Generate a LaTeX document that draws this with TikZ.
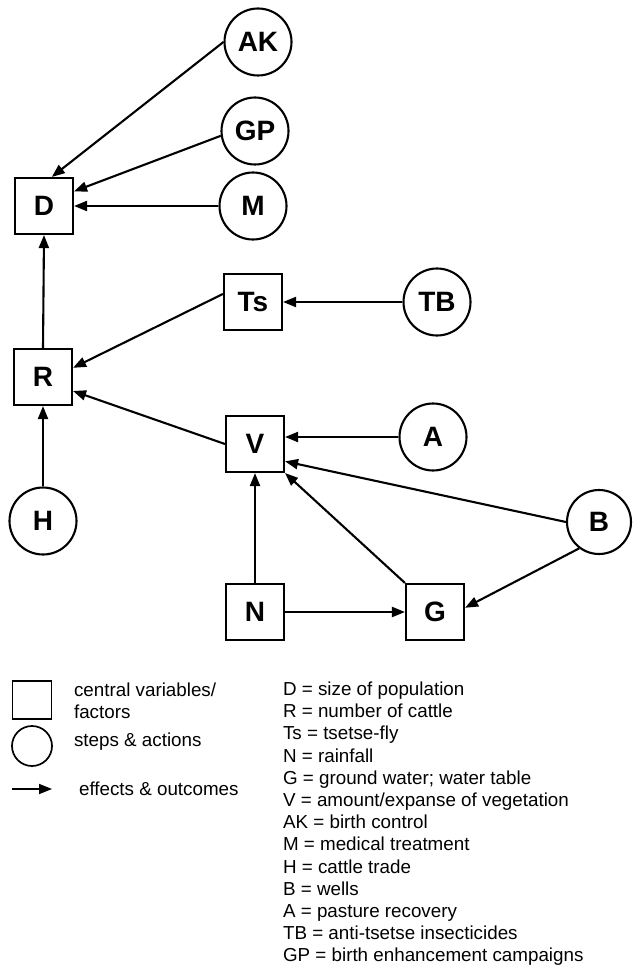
\documentclass[tikz,border=0pt]{standalone}
\usepackage{fontspec}
\setmainfont{Liberation Sans}
\usetikzlibrary{arrows.meta}
\begin{document}
\begin{tikzpicture}[x=1pt,y=-1pt,
  line width=2.1pt,
  lbl/.style={font=\fontsize{28}{30}\selectfont\bfseries},
  factor/.style={draw, rectangle, minimum width=58pt, minimum height=56pt, inner sep=0pt, lbl},
  action/.style={draw, circle, minimum size=67pt, inner sep=0pt, lbl},
  effect/.style={-{Triangle[length=13pt,width=10pt]}},
  legtext/.style={anchor=base west, inner sep=0pt, font=\fontsize{18.8}{22.2}\selectfont}
]
\useasboundingbox (0,0) rectangle (632,968);

% central variables / factors
\node[factor] (D)  at (44,206) {D};
\node[factor] (Ts) at (253,302) {Ts};
\node[factor] (R)  at (43,377) {R};
\node[factor] (V)  at (255,444) {V};
\node[factor] (N)  at (255,612) {N};
\node[factor] (G)  at (435,612) {G};

% steps & actions
\node[action] (AK) at (258,42) {AK};
\node[action] (GP) at (255,131) {GP};
\node[action] (M)  at (253,206) {M};
\node[action] (TB) at (437,302) {TB};
\node[action] (A)  at (433,437) {A};
\node[action] (H)  at (43,521) {H};
\node[action, minimum size=64pt] (B) at (599,522) {B};

% effects & outcomes
\draw[effect] (AK.west) -- (D.75);
\draw[effect] (GP.188) -- (D.26);
\draw[effect] (M.west) -- (D.east);
\draw[effect] (R.north) -- (D.south);
\draw[effect] (TB.west) -- (Ts.east);
\draw[effect] (Ts.165) -- (R.17);
\draw[effect] (V.west) -- (R.-25);
\draw[effect] (H.north) -- (R.south);
\draw[effect] (A.west) -- (A.west -| V.east);
\draw[effect] (B.west) -- (V.-30);
\draw[effect] (G.north west) -- (V.south east);
\draw[effect] (N.north) -- (V.south);
\draw[effect] (N.east) -- (G.west);
\draw[effect] (B.233) -- (G.8);

% key to symbols
\begin{scope}[line width=1.7pt]
  \node[draw, rectangle, minimum width=39pt, minimum height=38pt, inner sep=0pt] (keysq) at (32,700) {};
  \node[draw, circle, minimum size=40pt, inner sep=0pt] (keyci) at (32,746) {};
  \coordinate (keya) at (12,789);
  \coordinate (keyb) at (52,789);
  \draw[effect] (keya) -- (keyb);
\end{scope}
\node[legtext] (tsq1) at (73,696.5) {central variables/};
\node[legtext] (tsq2) at (73,718.5) {factors};
\node[legtext] (tci)  at (73,746.5) {steps \& actions};
\node[legtext] (tar)  at (78,795.5) {effects \& outcomes};

% key to abbreviations
\foreach \txt [count=\i from 0] in {
  D = size of population,
  R = number of cattle,
  Ts = tsetse-fly,
  N = rainfall,
  G = ground water; water table,
  V = amount/expanse of vegetation,
  AK = birth control,
  M = medical treatment,
  H = cattle trade,
  B = wells,
  A = pasture recovery,
  TB = anti-tsetse insecticides,
  GP = birth enhancement campaigns}
  \node[legtext] (abbr\i) at (282,{695.5+22.2*\i}) {\txt};
\end{tikzpicture}
\end{document}
